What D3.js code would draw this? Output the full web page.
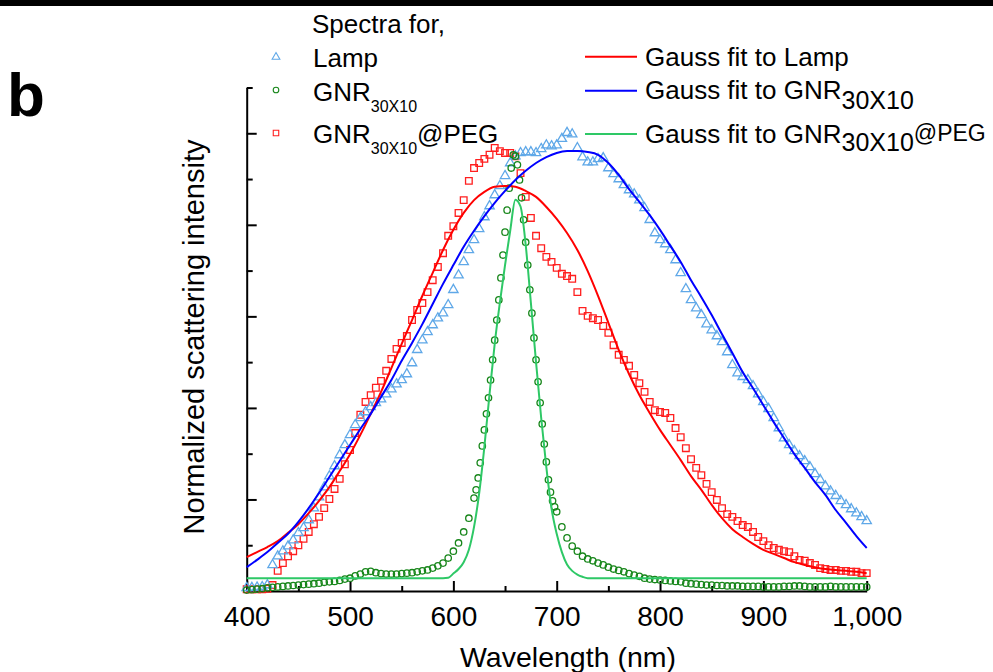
<!DOCTYPE html>
<html>
<head>
<meta charset="utf-8">
<script src="https://cdn.jsdelivr.net/npm/d3@7"></script>
<style>
  body { margin: 0; background: #fff; }
  svg { display: block; font-family: "Liberation Sans", Arial, Helvetica, sans-serif; }
</style>
</head>
<body>
<div id="chart"></div>
<script>
// Wavelength grid of the lamp and GNR@PEG spectra (nm)
var wavelengths = d3.range(400, 1001, 5);

// Lamp spectrum (triangles)
var lampValues = [
  0.007, 0.007, 0.008, 0.009, 0.013, 0.057, 0.076, 0.087, 0.098, 0.111,
  0.127, 0.138, 0.155, 0.181, 0.205, 0.227, 0.251, 0.273, 0.297, 0.319,
  0.341, 0.363, 0.378, 0.391, 0.402, 0.411, 0.419, 0.430, 0.441, 0.452,
  0.461, 0.474, 0.498, 0.527, 0.548, 0.566, 0.581, 0.596, 0.607, 0.625,
  0.658, 0.690, 0.719, 0.745, 0.767, 0.791, 0.817, 0.841, 0.865, 0.885,
  0.907, 0.935, 0.950, 0.957, 0.959, 0.959, 0.957, 0.966, 0.974, 0.972,
  0.974, 0.988, 1.001, 0.998, 0.968, 0.948, 0.937, 0.937, 0.944, 0.946,
  0.924, 0.911, 0.900, 0.887, 0.876, 0.867, 0.854, 0.837, 0.811, 0.782,
  0.767, 0.758, 0.745, 0.723, 0.695, 0.660, 0.636, 0.618, 0.603, 0.583,
  0.570, 0.557, 0.544, 0.522, 0.494, 0.476, 0.468, 0.461, 0.448, 0.430,
  0.413, 0.398, 0.378, 0.356, 0.334, 0.319, 0.306, 0.295, 0.284, 0.271,
  0.256, 0.243, 0.229, 0.218, 0.208, 0.197, 0.188, 0.179, 0.170, 0.162,
  0.153
];

// GNR30X10@PEG spectrum (squares)
var pegValues = [
  0.004, 0.004, 0.004, 0.004, 0.005, 0.013, 0.044, 0.061, 0.076, 0.087,
  0.100, 0.114, 0.129, 0.146, 0.162, 0.181, 0.201, 0.223, 0.245, 0.277,
  0.308, 0.345, 0.385, 0.413, 0.428, 0.444, 0.459, 0.481, 0.507, 0.529,
  0.542, 0.557, 0.592, 0.614, 0.629, 0.653, 0.679, 0.708, 0.738, 0.776,
  0.797, 0.826, 0.854, 0.896, 0.924, 0.935, 0.944, 0.953, 0.968, 0.961,
  0.957, 0.957, 0.950, 0.913, 0.861, 0.815, 0.776, 0.749, 0.730, 0.719,
  0.706, 0.693, 0.688, 0.682, 0.653, 0.612, 0.601, 0.596, 0.592, 0.579,
  0.564, 0.537, 0.516, 0.505, 0.492, 0.472, 0.454, 0.435, 0.413, 0.395,
  0.391, 0.389, 0.378, 0.356, 0.336, 0.312, 0.288, 0.269, 0.253, 0.234,
  0.216, 0.199, 0.181, 0.168, 0.162, 0.153, 0.144, 0.140, 0.129, 0.118,
  0.109, 0.100, 0.094, 0.090, 0.087, 0.085, 0.076, 0.068, 0.066, 0.061,
  0.057, 0.050, 0.048, 0.046, 0.046, 0.044, 0.044, 0.042, 0.042, 0.039,
  0.039
];

// GNR30X10 spectrum (circles), sampled finer around the narrow peak
var gnrWavelengths = d3.range(400, 616, 5).concat(d3.range(620, 701, 2), d3.range(705, 1001, 5));
var gnrValues = [
  0.002, 0.003, 0.004, 0.005, 0.007, 0.008, 0.009, 0.010, 0.011, 0.012,
  0.013, 0.014, 0.015, 0.016, 0.017, 0.019, 0.020, 0.021, 0.023, 0.026,
  0.028, 0.033, 0.037, 0.042, 0.043, 0.040, 0.038, 0.037, 0.037, 0.037,
  0.038, 0.039, 0.040, 0.042, 0.044, 0.046, 0.050, 0.055, 0.061, 0.072,
  0.087, 0.105, 0.129, 0.159,
  0.203, 0.221, 0.247, 0.280, 0.317, 0.352, 0.387, 0.422, 0.461, 0.505,
  0.548, 0.592, 0.636, 0.684, 0.734, 0.784, 0.832, 0.880, 0.924, 0.953,
  0.950, 0.931, 0.898, 0.859, 0.811, 0.762, 0.712, 0.658, 0.607, 0.553,
  0.505, 0.457, 0.411, 0.365, 0.321, 0.282, 0.243, 0.216, 0.197, 0.184,
  0.173,
  0.140, 0.116, 0.098, 0.087, 0.076, 0.070, 0.066, 0.061, 0.057, 0.052,
  0.048, 0.045, 0.042, 0.038, 0.035, 0.032, 0.028, 0.026, 0.025, 0.024,
  0.023, 0.022, 0.021, 0.020, 0.017, 0.016, 0.015, 0.014, 0.013, 0.013,
  0.012, 0.012, 0.011, 0.011, 0.011, 0.010, 0.010, 0.010, 0.010, 0.009,
  0.009, 0.009, 0.009, 0.010, 0.010, 0.011, 0.011, 0.010, 0.009, 0.009,
  0.009, 0.009, 0.010, 0.009, 0.009, 0.009, 0.009, 0.009, 0.009, 0.009
];

// Gauss fits
var fitWavelengths = d3.range(400, 1001, 10);
var fitLampValues = [
  0.074, 0.085, 0.096, 0.109, 0.127, 0.146, 0.170, 0.197, 0.227, 0.262,
  0.299, 0.341, 0.387, 0.435, 0.487, 0.540, 0.592, 0.645, 0.695, 0.745,
  0.789, 0.826, 0.854, 0.872, 0.883, 0.885, 0.883, 0.874, 0.861, 0.839,
  0.813, 0.782, 0.745, 0.699, 0.645, 0.586, 0.527, 0.474, 0.428, 0.389,
  0.352, 0.319, 0.286, 0.251, 0.221, 0.188, 0.159, 0.135, 0.118, 0.103,
  0.090, 0.081, 0.072, 0.063, 0.057, 0.052, 0.048, 0.046, 0.044, 0.042,
  0.039
];
var fitGnrValues = [
  0.052, 0.068, 0.085, 0.105, 0.125, 0.151, 0.181, 0.214, 0.249, 0.284,
  0.319, 0.354, 0.387, 0.424, 0.461, 0.503, 0.542, 0.583, 0.627, 0.671,
  0.712, 0.752, 0.787, 0.819, 0.848, 0.874, 0.898, 0.918, 0.935, 0.948,
  0.957, 0.961, 0.961, 0.959, 0.953, 0.935, 0.909, 0.878, 0.850, 0.821,
  0.789, 0.754, 0.719, 0.679, 0.642, 0.603, 0.561, 0.520, 0.478, 0.443,
  0.406, 0.369, 0.334, 0.299, 0.269, 0.238, 0.210, 0.177, 0.149, 0.120,
  0.094
];
var fitPegWavelengths = [400, 450, 500, 550, 590, 595, 600, 605, 610, 615,
  620, 625, 630, 635, 640, 645, 650, 655, 660, 665, 670, 675, 680, 685,
  690, 695, 700, 705, 710, 715, 720, 725, 730, 800, 900, 1000];
var fitPegValues = [0.028, 0.028, 0.028, 0.028, 0.028, 0.029, 0.038, 0.048, 0.063, 0.090,
  0.140, 0.214, 0.315, 0.430, 0.540, 0.630, 0.712, 0.787, 0.855, 0.840, 0.756, 0.630, 0.500, 0.378,
  0.270, 0.180, 0.125, 0.085, 0.058, 0.044, 0.036, 0.031, 0.028, 0.028, 0.028, 0.028];

// Axis ticks
var xTicks = [400, 500, 600, 700, 800, 900, 1000];
var xMinorTicks = [450, 550, 650, 750, 850, 950];
var yTicks = [0, 0.2, 0.4, 0.6, 0.8, 1.0];
var yMinorTicks = [0.1, 0.3, 0.5, 0.7, 0.9, 1.1];

// Colours
var lampColor = "#5fa8e8", pegColor = "#ff1f1f", gnrColor = "#17861a";
var fitLampColor = "#ff0000", fitGnrColor = "#0000ff", fitPegColor = "#2ec866";

var width = 993, height = 672;

var x = d3.scaleLinear().domain([400, 1000]).range([246.7, 866.7]);
var y = d3.scaleLinear().domain([0, 1.1]).range([591, 87.5]);

var svg = d3.select("#chart").append("svg")
    .attr("width", width)
    .attr("height", height);

svg.append("rect").attr("width", width).attr("height", height).attr("fill", "#fff");
// dark strip left over from the figure above
svg.append("rect").attr("width", width).attr("height", 6).attr("fill", "#000");

// Panel letter
svg.append("text")
    .attr("x", 7).attr("y", 116)
    .attr("font-size", 62).attr("font-weight", "bold")
    .text("b");

// Axes
function styleAxis(g) {
    g.attr("font-family", null).attr("font-size", 28);
    g.selectAll("path, line").attr("stroke", "#000").attr("stroke-width", 2);
    g.selectAll("text").attr("fill", "#000");
}

svg.append("g")
    .attr("transform", "translate(0,591)")
    .call(d3.axisBottom(x).tickValues(xTicks).tickSizeInner(-10).tickSizeOuter(0)
        .tickPadding(15).tickFormat(d3.format(",")))
    .call(styleAxis);

svg.append("g")
    .attr("transform", "translate(0,591)")
    .call(d3.axisBottom(x).tickValues(xMinorTicks).tickSize(-5).tickFormat(""))
    .call(styleAxis)
    .select(".domain").remove();

svg.append("g")
    .attr("transform", "translate(246.7,0)")
    .call(d3.axisLeft(y).tickValues(yTicks).tickSizeInner(-10).tickSizeOuter(0).tickFormat(""))
    .call(styleAxis);

svg.append("g")
    .attr("transform", "translate(246.7,0)")
    .call(d3.axisLeft(y).tickValues(yMinorTicks).tickSize(-6).tickFormat(""))
    .call(styleAxis)
    .select(".domain").remove();

// Axis titles
svg.append("text")
    .attr("x", 568).attr("y", 667)
    .attr("text-anchor", "middle").attr("font-size", 28.5)
    .text("Wavelength (nm)");

svg.append("text")
    .attr("transform", "translate(204,337) rotate(-90)")
    .attr("text-anchor", "middle").attr("font-size", 29)
    .text("Normalized scattering intensity");

// Marker series
var triangle = d3.symbol().type(d3.symbolTriangle).size(38);
var square = d3.symbol().type(d3.symbolSquare).size(44);
var markerStroke = 1.3;

var pegData = wavelengths.map((w, i) => ({ w: w, v: pegValues[i] }));
var lampData = wavelengths.map((w, i) => ({ w: w, v: lampValues[i] }));
var gnrData = gnrWavelengths.map((w, i) => ({ w: w, v: gnrValues[i] }));

svg.append("g").selectAll("path")
    .data(pegData)
    .join("path")
    .attr("transform", d => "translate(" + x(d.w) + "," + y(d.v) + ")")
    .attr("d", square)
    .attr("fill", "none").attr("stroke", pegColor).attr("stroke-width", markerStroke);

svg.append("g").selectAll("path")
    .data(lampData)
    .join("path")
    .attr("transform", d => "translate(" + x(d.w) + "," + y(d.v) + ")")
    .attr("d", triangle)
    .attr("fill", "none").attr("stroke", lampColor).attr("stroke-width", markerStroke);

svg.append("g").selectAll("circle")
    .data(gnrData)
    .join("circle")
    .attr("cx", d => x(d.w))
    .attr("cy", d => y(d.v))
    .attr("r", 3.2)
    .attr("fill", "none").attr("stroke", gnrColor).attr("stroke-width", markerStroke);

// Fit lines
var line = d3.line()
    .x(d => x(d.w))
    .y(d => y(d.v))
    .curve(d3.curveMonotoneX);

var fits = [
    { wl: fitWavelengths, values: fitLampValues, color: fitLampColor },
    { wl: fitWavelengths, values: fitGnrValues, color: fitGnrColor },
    { wl: fitPegWavelengths, values: fitPegValues, color: fitPegColor }
];

svg.append("g").selectAll("path")
    .data(fits)
    .join("path")
    .attr("d", f => line(f.wl.map((w, i) => ({ w: w, v: f.values[i] }))))
    .attr("fill", "none")
    .attr("stroke", f => f.color)
    .attr("stroke-width", 2);

// Legend, spectra
var legend = svg.append("g").attr("font-size", 26).attr("fill", "#000");

legend.append("text").attr("x", 312).attr("y", 33).text("Spectra for,");

legend.append("path")
    .attr("transform", "translate(276,57)")
    .attr("d", d3.symbol().type(d3.symbolTriangle).size(26))
    .attr("fill", "none").attr("stroke", lampColor).attr("stroke-width", 1.1);
legend.append("text").attr("x", 313).attr("y", 67).text("Lamp");

legend.append("circle")
    .attr("cx", 276).attr("cy", 90).attr("r", 2.8)
    .attr("fill", "none").attr("stroke", gnrColor).attr("stroke-width", 1.1);
var t2 = legend.append("text").attr("x", 313).attr("y", 100.5);
t2.append("tspan").text("GNR");
t2.append("tspan").attr("font-size", 16).attr("dy", 11).text("30X10");

legend.append("path")
    .attr("transform", "translate(276,133)")
    .attr("d", d3.symbol().type(d3.symbolSquare).size(30))
    .attr("fill", "none").attr("stroke", pegColor).attr("stroke-width", 1.1);
var t3 = legend.append("text").attr("x", 313).attr("y", 142.5);
t3.append("tspan").text("GNR");
t3.append("tspan").attr("font-size", 16).attr("dy", 11).text("30X10");
t3.append("tspan").attr("dy", -11).text("@PEG");

// Legend, fits
var fitLegendY = [56.7, 90.7, 134];
fitLegendY.forEach((ly, i) => {
    legend.append("line")
        .attr("x1", 585).attr("x2", 637)
        .attr("y1", ly).attr("y2", ly)
        .attr("stroke", fits[i].color).attr("stroke-width", 2);
});

legend.append("text").attr("x", 645).attr("y", 66).text("Gauss fit to Lamp");

var f2 = legend.append("text").attr("x", 645).attr("y", 99);
f2.append("tspan").text("Gauss fit to GNR");
f2.append("tspan").attr("font-size", 25).attr("dy", 10).text("30X10");

var f3 = legend.append("text").attr("x", 645).attr("y", 142.5);
f3.append("tspan").text("Gauss fit to GNR");
f3.append("tspan").attr("font-size", 25).attr("dy", 8.5).text("30X10");
f3.append("tspan").attr("font-size", 23).attr("dy", -10).text("@PEG");
</script>
</body>
</html>
